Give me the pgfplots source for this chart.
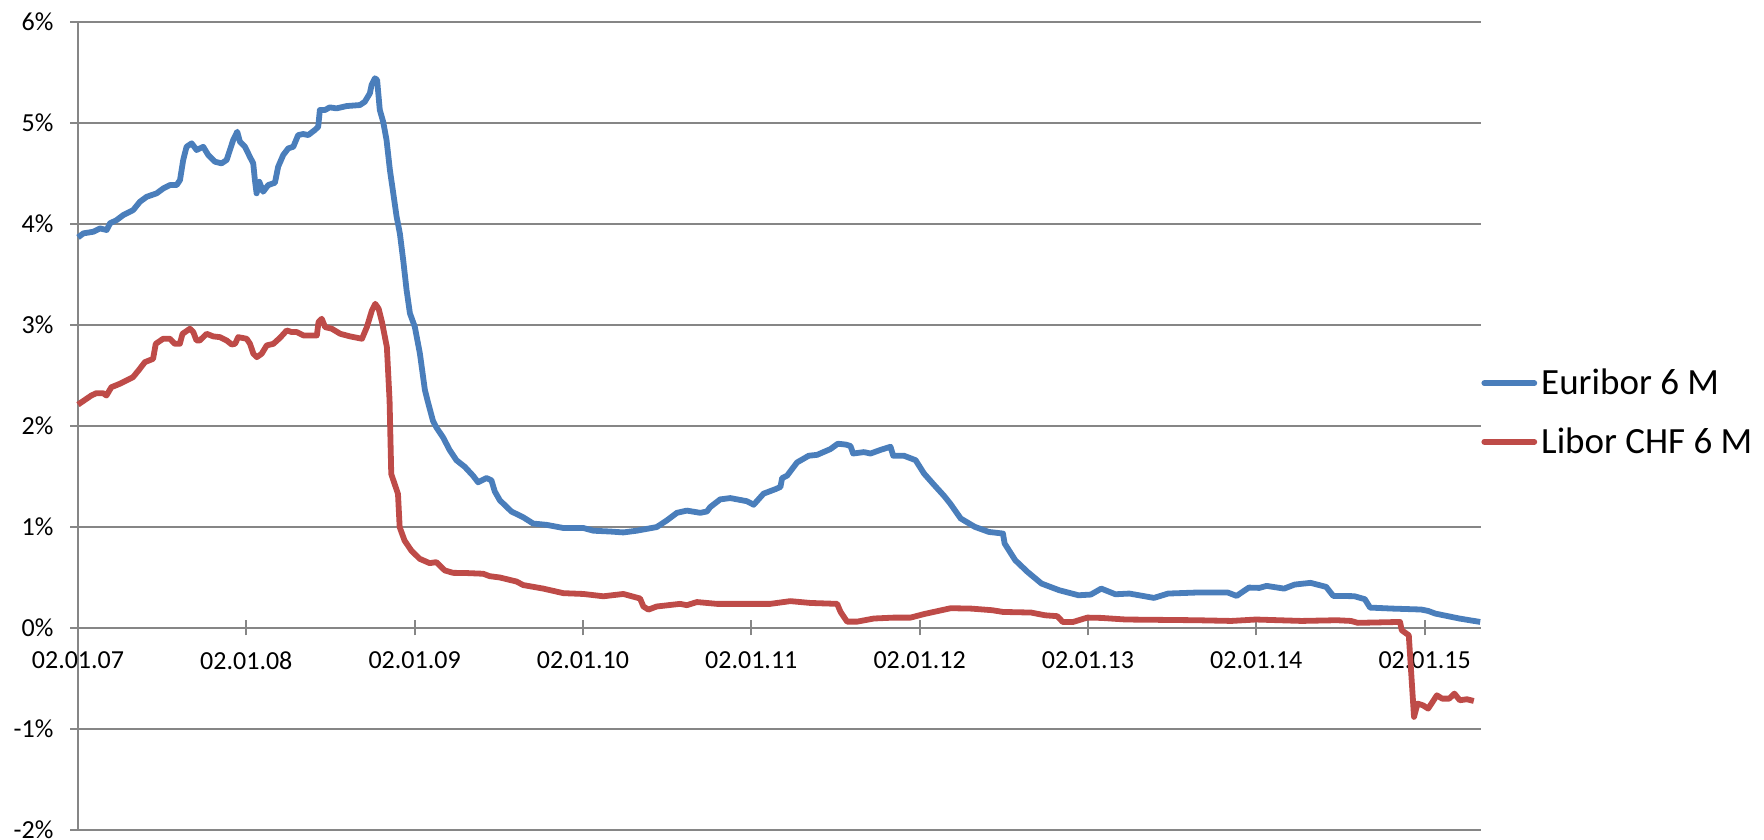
\documentclass[border=0pt]{standalone}
\usepackage{fontspec}
\setmainfont{Carlito}
\usepackage{pgfplots}
\pgfplotsset{compat=1.18}
\definecolor{eur}{HTML}{4A7EBB}
\definecolor{chf}{HTML}{BE4B48}
\definecolor{gridgray}{HTML}{868686}
\begin{document}
\begin{tikzpicture}
\begin{axis}[
  scale only axis,
  width=701.5pt, height=404.15pt,
  xmin=0, xmax=8.335, ymin=-2, ymax=6,
  axis x line=middle, axis y line=left,
  axis line style={-, draw=gridgray, line width=1pt},
  hide obscured x ticks=false, hide obscured y ticks=false,
  xtick={0,1,...,8},
  xticklabels={02.01.07,02.01.08,02.01.09,02.01.10,02.01.11,02.01.12,02.01.13,02.01.14,02.01.15},
  ytick={-2,-1,...,6},
  yticklabels={-2\%,-1\%,0\%,1\%,2\%,3\%,4\%,5\%,6\%},
  ymajorgrids, grid style={draw=gridgray, line width=1pt},
  tick align=center, major tick length=7.5pt,
  tick style={draw=gridgray, line width=1pt},
  /pgf/number format/assume math mode=true,
  tick label style={font=\fontsize{13}{15}\selectfont, text=black},
  xticklabel style={anchor=north, yshift=-4.5pt},
  yticklabel style={anchor=east, xshift=-5pt},
  legend style={at={(1.0,0.5165)}, anchor=west, draw=none, fill=none,
    font=\fontsize{18.5}{22}\selectfont, row sep=11pt, inner sep=0pt,
    legend cell align=left},
  legend image code/.code={\draw[#1, line cap=round] (1.5pt,0pt) -- (26.5pt,0pt);},
  every axis plot/.append style={line width=2.9pt, line join=round},
  clip=false,
]
\addplot[eur, mark=none] coordinates {
(0.000,3.865)(0.032,3.905)(0.091,3.921)(0.131,3.954)(0.170,3.938)(0.190,4.004)(0.230,4.037)(0.269,4.086)
(0.328,4.136)(0.368,4.218)(0.408,4.267)(0.467,4.301)(0.507,4.350)(0.546,4.383)(0.586,4.383)(0.606,4.433)
(0.625,4.631)(0.645,4.762)(0.675,4.796)(0.705,4.730)(0.744,4.762)(0.774,4.680)(0.814,4.614)(0.853,4.598)
(0.883,4.631)(0.922,4.829)(0.946,4.911)(0.962,4.812)(0.992,4.762)(1.021,4.663)(1.041,4.598)(1.051,4.433)
(1.061,4.301)(1.077,4.416)(1.100,4.317)(1.130,4.383)(1.170,4.406)(1.189,4.564)(1.219,4.680)(1.249,4.746)
(1.279,4.762)(1.308,4.878)(1.338,4.888)(1.368,4.878)(1.407,4.928)(1.427,4.960)(1.437,5.126)(1.467,5.126)
(1.496,5.152)(1.536,5.142)(1.596,5.165)(1.675,5.175)(1.704,5.208)(1.734,5.291)(1.744,5.373)(1.764,5.440)
(1.777,5.423)(1.793,5.126)(1.813,5.010)(1.833,4.829)(1.853,4.532)(1.873,4.301)(1.893,4.069)(1.912,3.905)
(1.932,3.641)(1.952,3.344)(1.972,3.113)(2.001,2.980)(2.031,2.717)(2.061,2.353)(2.081,2.222)(2.109,2.049)
(2.129,1.984)(2.169,1.885)(2.208,1.760)(2.248,1.660)(2.298,1.594)(2.347,1.506)(2.377,1.441)(2.427,1.483)
(2.456,1.461)(2.476,1.351)(2.506,1.263)(2.575,1.152)(2.645,1.095)(2.704,1.033)(2.784,1.020)(2.883,0.989)
(3.002,0.989)(3.062,0.962)(3.161,0.954)(3.240,0.945)(3.319,0.962)(3.438,0.998)(3.498,1.064)(3.558,1.139)
(3.617,1.161)(3.696,1.139)(3.736,1.152)(3.756,1.196)(3.815,1.272)(3.875,1.285)(3.974,1.254)(4.014,1.219)
(4.073,1.329)(4.143,1.373)(4.173,1.395)(4.183,1.483)(4.212,1.506)(4.272,1.638)(4.341,1.704)(4.391,1.713)
(4.470,1.770)(4.514,1.823)(4.560,1.815)(4.589,1.801)(4.605,1.726)(4.669,1.740)(4.708,1.726)(4.768,1.762)
(4.827,1.793)(4.843,1.704)(4.907,1.704)(4.976,1.660)(5.026,1.528)(5.085,1.417)(5.145,1.307)(5.182,1.230)
(5.244,1.083)(5.328,1.000)(5.411,0.950)(5.495,0.934)(5.505,0.835)(5.568,0.670)(5.641,0.554)(5.724,0.439)
(5.829,0.373)(5.944,0.323)(6.017,0.330)(6.079,0.389)(6.163,0.333)(6.246,0.340)(6.392,0.297)(6.476,0.340)
(6.643,0.350)(6.831,0.350)(6.883,0.317)(6.956,0.399)(7.019,0.396)(7.061,0.416)(7.165,0.389)(7.228,0.429)
(7.322,0.446)(7.415,0.406)(7.457,0.317)(7.582,0.314)(7.645,0.284)(7.676,0.201)(7.812,0.191)(7.979,0.182)
(8.021,0.168)(8.063,0.142)(8.209,0.092)(8.330,0.059)
};
\addlegendentry{Euribor 6 M}
\addplot[chf, mark=none] coordinates {
(0.000,2.210)(0.050,2.267)(0.079,2.300)(0.109,2.323)(0.149,2.323)(0.169,2.300)(0.198,2.382)(0.248,2.416)
(0.288,2.449)(0.327,2.482)(0.367,2.564)(0.397,2.630)(0.446,2.663)(0.462,2.812)(0.506,2.862)(0.546,2.862)
(0.575,2.812)(0.605,2.812)(0.621,2.911)(0.665,2.961)(0.685,2.928)(0.704,2.845)(0.724,2.845)(0.764,2.911)
(0.804,2.885)(0.843,2.878)(0.883,2.845)(0.913,2.805)(0.933,2.812)(0.952,2.878)(1.002,2.862)(1.022,2.812)
(1.042,2.713)(1.062,2.680)(1.091,2.713)(1.121,2.796)(1.161,2.812)(1.200,2.871)(1.240,2.944)(1.270,2.928)
(1.300,2.928)(1.339,2.895)(1.419,2.895)(1.429,3.027)(1.448,3.060)(1.468,2.977)(1.508,2.961)(1.558,2.911)
(1.617,2.885)(1.687,2.862)(1.716,2.977)(1.746,3.142)(1.766,3.208)(1.786,3.159)(1.806,3.027)(1.835,2.779)
(1.851,2.250)(1.861,1.523)(1.901,1.326)(1.911,0.997)(1.940,0.865)(1.980,0.766)(2.030,0.684)(2.089,0.641)
(2.129,0.651)(2.179,0.569)(2.228,0.545)(2.308,0.543)(2.407,0.536)(2.446,0.512)(2.506,0.499)(2.605,0.459)
(2.645,0.424)(2.764,0.389)(2.883,0.344)(3.002,0.336)(3.121,0.313)(3.240,0.336)(3.339,0.291)(3.359,0.212)
(3.389,0.181)(3.438,0.212)(3.577,0.238)(3.617,0.225)(3.677,0.256)(3.796,0.238)(3.994,0.238)(4.113,0.238)
(4.232,0.265)(4.351,0.247)(4.510,0.238)(4.530,0.159)(4.569,0.062)(4.629,0.062)(4.728,0.093)(4.847,0.102)
(4.946,0.102)(5.026,0.137)(5.185,0.195)(5.307,0.191)(5.432,0.175)(5.495,0.158)(5.662,0.152)(5.745,0.125)
(5.818,0.116)(5.850,0.059)(5.912,0.059)(5.996,0.102)(6.079,0.099)(6.225,0.083)(6.643,0.076)(6.852,0.069)
(6.998,0.083)(7.269,0.069)(7.478,0.076)(7.562,0.069)(7.603,0.050)(7.854,0.059)(7.864,-0.023)(7.906,-0.073)
(7.937,-0.881)(7.958,-0.749)(7.990,-0.766)(8.021,-0.799)(8.073,-0.667)(8.104,-0.700)(8.146,-0.700)(8.177,-0.650)
(8.209,-0.716)(8.251,-0.706)(8.292,-0.723)
};
\addlegendentry{Libor CHF 6 M}
\end{axis}
\pgfresetboundingbox
\useasboundingbox ([shift={(-39pt,-5pt)}]current axis.south west) rectangle ([shift={(141.5pt,10.85pt)}]current axis.north east);
\end{tikzpicture}
\end{document}
